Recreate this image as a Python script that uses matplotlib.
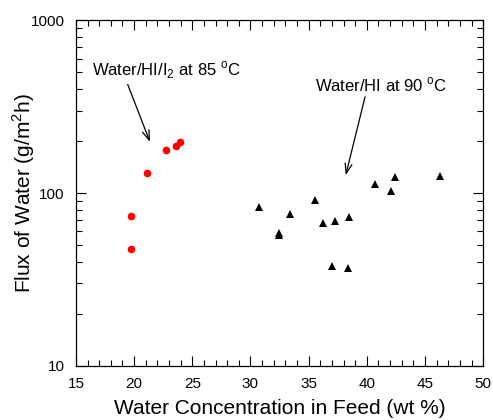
import numpy as np
import matplotlib.pyplot as plt
from matplotlib.ticker import LogLocator, MultipleLocator, FixedLocator

plt.rcParams['font.family'] = ['Liberation Sans', 'DejaVu Sans']

# Water/HI/I2 at 85 C
x_hii2 = [19.73, 19.73, 21.1, 22.74, 23.6, 23.94]
y_hii2 = [73.6, 47.4, 130.5, 177, 187, 197]

# Water/HI at 90 C
x_hi = [30.76, 32.48, 32.48, 33.40, 35.58, 36.21, 37.30, 38.47, 37.04, 38.41,
        40.73, 42.43, 42.11, 46.32]
y_hi = [83.3, 58.5, 57.2, 75.6, 91.1, 66.8, 69.2, 73.0, 37.7, 36.7,
        112.7, 124.2, 102.7, 125.4]

xticks = [15, 20, 25, 30, 35, 40, 45, 50]
yticks = [10, 100, 1000]

fig = plt.figure(figsize=(4.93, 4.2), dpi=100)
ax = fig.add_axes([0.154, 0.1286, 0.826, 0.8234])

ax.plot(x_hii2, y_hii2, 'o', color='#ff0000', markersize=5.5, markeredgewidth=0)
ax.plot(x_hi, y_hi, '^', color='k', markersize=5.5, markeredgewidth=0)

ax.set_yscale('log')
ax.set_xlim(15, 50)
ax.set_ylim(10, 1000)
ax.xaxis.set_major_locator(FixedLocator(xticks))
ax.xaxis.set_minor_locator(MultipleLocator(1))
ax.yaxis.set_major_locator(FixedLocator(yticks))
ax.yaxis.set_minor_locator(LogLocator(base=10, subs=np.arange(2, 10)))
ax.set_xticklabels([str(t) for t in xticks])
ax.set_yticklabels([str(t) for t in yticks])
ax.yaxis.set_minor_formatter(plt.NullFormatter())

ax.tick_params(which='both', direction='in', top=True, right=True, labelsize=11)
ax.tick_params(which='major', length=7, width=0.8, pad=8)
ax.tick_params(which='minor', length=4, width=0.8)
for s in ax.spines.values():
    s.set_linewidth(0.9)

ax.set_xlabel('Water Concentration in Feed (wt %)', fontsize=15, labelpad=6)
ax.set_ylabel('Flux of Water (g/m$^\\mathregular{2}$h)', fontsize=15)
ax.yaxis.set_label_coords(-0.096, 0.5)

ax.text(22.74, 514, 'Water/HI/I$_\\mathregular{2}$ at 85 $^\\mathregular{o}$C', fontsize=12,
        ha='center', va='center')
ax.annotate('', xy=(21.36, 198), xytext=(19.45, 425),
            arrowprops=dict(arrowstyle='->,head_length=0.7,head_width=0.25',
                            color='k', lw=0.9, shrinkA=0, shrinkB=0))
ax.text(41.27, 421, 'Water/HI at 90 $^\\mathregular{o}$C', fontsize=12,
        ha='center', va='center')
ax.annotate('', xy=(38.19, 127), xytext=(39.85, 360),
            arrowprops=dict(arrowstyle='->,head_length=0.7,head_width=0.25',
                            color='k', lw=0.9, shrinkA=0, shrinkB=0))

fig.savefig('out.png', dpi=100)
